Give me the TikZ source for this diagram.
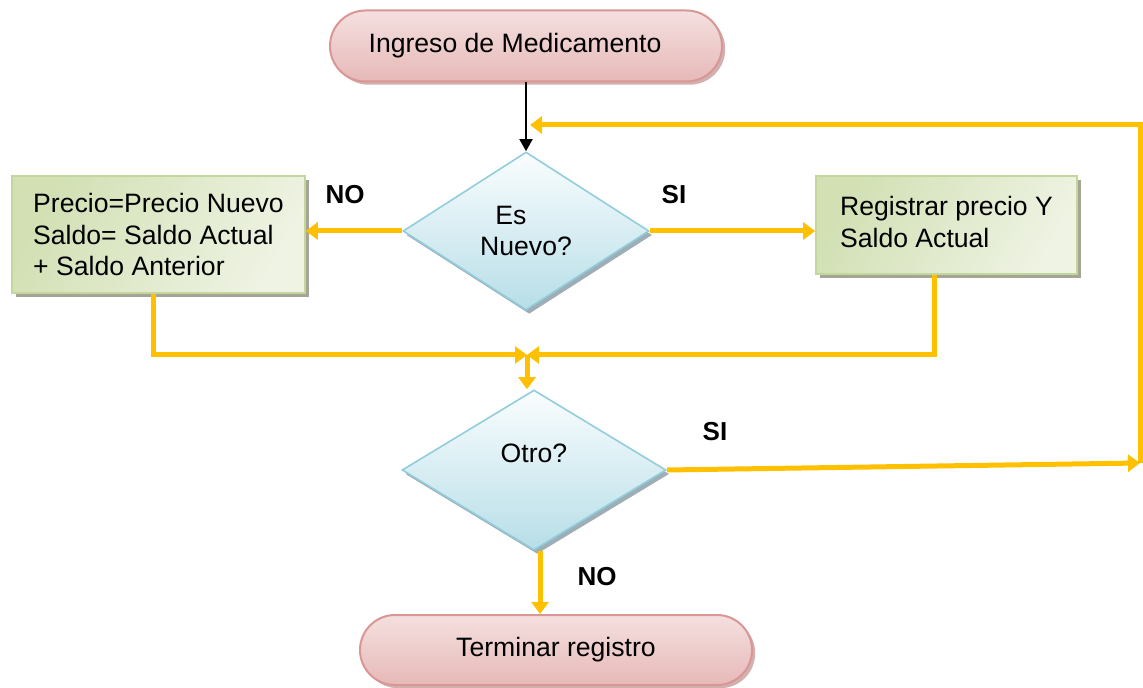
\documentclass[tikz,border=0pt]{standalone}
\usepackage{fontspec}
\setmainfont{Liberation Sans}
\usetikzlibrary{shapes.geometric,shapes.misc,arrows.meta,shadows}
\definecolor{orng}{HTML}{FFC000}
\definecolor{termtop}{HTML}{F4E0DF}
\definecolor{termbot}{HTML}{E6B9B8}
\definecolor{termline}{HTML}{D99694}
\definecolor{boxa}{HTML}{D2E0B4}
\definecolor{boxb}{HTML}{EEF3E3}
\definecolor{boxline}{HTML}{C3D69B}
\definecolor{diatop}{HTML}{FAFDFE}
\definecolor{diabot}{HTML}{B7DEE8}
\definecolor{dialine}{HTML}{92CDDC}
\begin{document}
\begin{tikzpicture}[x=0.5pt,y=-0.5pt,
  font=\fontsize{13.3}{15.75}\selectfont,
  term/.style={rounded rectangle, draw=termline, line width=1pt,
    top color=termtop, bottom color=termbot,
    drop shadow={shadow xshift=1.6pt, shadow yshift=-1.6pt, fill=termline!70!gray, opacity=0.7},
    minimum width=196pt, minimum height=35.5pt, inner sep=0pt},
  procbox/.style={rectangle, draw=boxline, line width=0.8pt,
    left color=boxa, right color=boxb, shading angle=60,
    drop shadow={shadow xshift=2pt, shadow yshift=-2pt, fill=gray!85!olive, opacity=0.8},
    align=left, inner sep=0pt},
  decision/.style={diamond, draw=dialine, line width=0.8pt,
    top color=diatop, bottom color=diabot,
    drop shadow={shadow xshift=1.6pt, shadow yshift=-2pt, fill=gray!80!cyan, opacity=0.8},
    aspect=1.6, inner sep=0pt, align=center},
  arr/.style={draw=orng, line width=2.5pt, -{Triangle[length=6pt,width=8.5pt]}},
  blk/.style={draw=black, line width=0.9pt, -{Triangle[length=6pt,width=6.5pt]}},
  lbl/.style={font=\fontsize{13}{15}\selectfont\bfseries}
]
\useasboundingbox (0,0) rectangle (1143,688);

\node[term] (start) at (526,46) {\hspace*{-11pt}Ingreso de Medicamento};
\node[decision, minimum width=123pt, minimum height=79pt] (nuevo) at (526,231) {\hspace*{-15pt}Es\\Nuevo?};
\node[procbox, minimum width=146.5pt, minimum height=58.5pt] (lbox) at (158.5,234.5)
  {Precio=Precio Nuevo\\Saldo= Saldo Actual\\+ Saldo Anterior};
\node[procbox, minimum width=130.5pt, minimum height=49pt] (rbox) at (946.5,225)
  {\raisebox{9pt}{\begin{tabular}{@{}l@{}}Registrar precio Y\\Saldo Actual\end{tabular}}};
\node[decision, minimum width=132pt, minimum height=80pt] (otro) at (534,470) {\raisebox{17pt}{Otro?}};
\node[term, minimum height=35pt] (fin) at (556,650) {Terminar registro};

\node[lbl] (noA) at (345,195) {NO};
\node[lbl] (siA) at (674,195) {SI};
\node[lbl] (siB) at (715,432) {SI};
\node[lbl] (noB) at (597,577) {NO};

\coordinate (merge) at (527,355);
\coordinate (loopR) at (1140,463);
\coordinate (loopT) at (530,125);

\draw[blk] (start.south) -- (nuevo.north);
\draw[arr] (nuevo.west) -- (nuevo.west -| lbox.east);
\draw[arr] (nuevo.east) -- (nuevo.east -| rbox.west);
\draw[arr] ([xshift=-2.5pt]lbox.south) |- (merge);
\draw[arr] ([xshift=-6pt]rbox.south) |- (merge);
\draw[arr] (merge) -- (merge |- otro.north);
\draw[arr] (otro.east) -- (loopR);
\draw[arr] (loopR) |- (loopT);
\draw[arr] ([xshift=3pt]otro.south) -- ([xshift=3pt]otro.south |- fin.north);
\end{tikzpicture}
\end{document}
